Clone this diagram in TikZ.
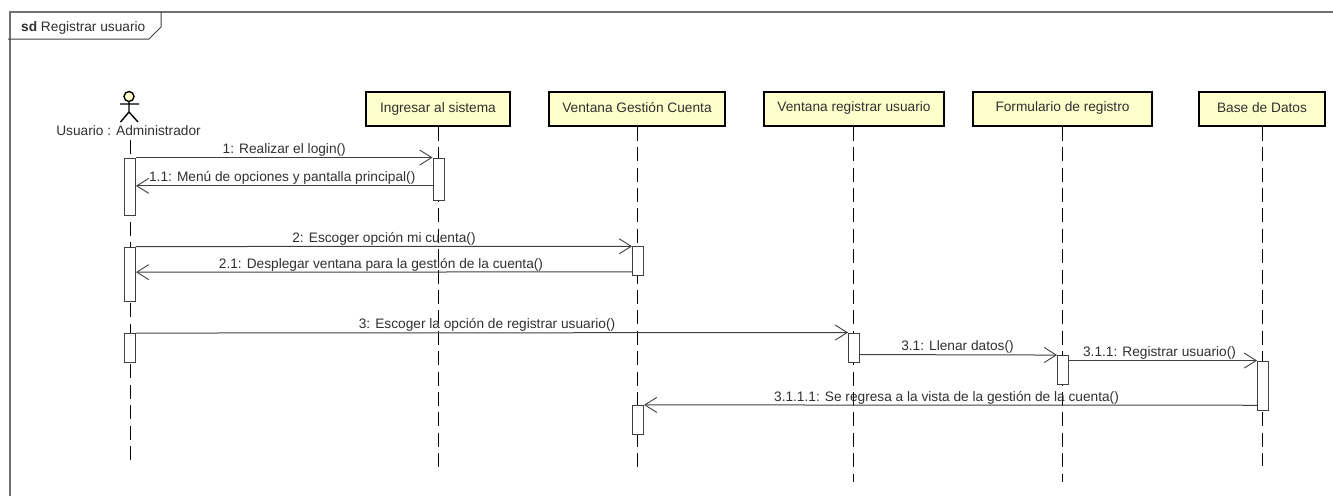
\documentclass[tikz,border=0pt]{standalone}
\usepackage{fontspec}
\setmainfont{Liberation Sans}
\usetikzlibrary{arrows.meta}
\definecolor{lifebox}{HTML}{FFFFCC}
\definecolor{framecol}{HTML}{707070}
\definecolor{msgcol}{HTML}{404040}
\definecolor{txtcol}{HTML}{303030}
\tikzset{
  objbox/.style={draw=black,line width=1.4pt,fill=lifebox,text=txtcol,minimum height=34pt,inner sep=0pt,text height=10pt,text depth=4pt,font=\fontsize{13.7}{15}\selectfont},
  objboxhigh/.style={objbox,text depth=6pt},
  lifeline/.style={draw=black,line width=0.9pt,dash pattern=on 14pt off 6.4pt},
  activation/.style={draw=msgcol,line width=0.9pt,fill=white,minimum width=11pt,inner sep=0pt},
  msg/.style={draw=msgcol,line width=1pt,-{Straight Barb[length=12pt,width=15pt,line width=0.9pt]}},
  msgtext/.style={text=txtcol,inner sep=0pt,font=\fontsize{13.7}{15}\selectfont},
  msglabel/.style={msgtext,anchor=base,pos=0.5,yshift=4pt},
}
\begin{document}
\begin{tikzpicture}[x=1pt,y=-1pt]
\useasboundingbox (0,0) rectangle (1333,496);
% frame
\coordinate (fl) at (10,496);
\coordinate (ftl) at (10,12);
\coordinate (ftr) at (1333,12);
\draw[framecol,line width=1.4pt] (fl) -- (ftl) -- (ftr);
\coordinate (t1) at (161,12);
\coordinate (t2) at (161,27);
\coordinate (t3) at (149,39);
\coordinate (t4) at (8,39);
\draw[msgcol,line width=1pt] (t1) -- (t2) -- (t3) -- (t4);
\node[msgtext,anchor=base west] (title) at (21,31.5) {\textbf{sd} Registrar usuario};
% lifeline ends
\coordinate (e0) at (130,460);
\coordinate (e1) at (438,467);
\coordinate (e2) at (637.5,467);
\coordinate (e3) at (853.5,482);
\coordinate (e4) at (1062.5,482);
\coordinate (e5) at (1262.7,466);
% actor
\coordinate (s0) at (130,140);
\coordinate (hip) at (129,112);
\coordinate (al) at (120,104);
\coordinate (ar) at (139,104);
\coordinate (ll) at (120.5,122);
\coordinate (lr) at (138,122);
\node[draw=black,line width=1.4pt,fill=lifebox,circle,minimum size=10pt,inner sep=0pt] (head) at (129,96.5) {};
\draw[black,line width=1.4pt] (head) -- (hip) (al) -- (ar) (ll) -- (hip) -- (lr);
\node[msgtext,anchor=base] (actor) at (128.5,135) {Usuario : Administrador};
% objects
\node[objbox,minimum width=144pt] (o1) at (438,109) {Ingresar al sistema};
\node[objbox,minimum width=176pt] (o2) at (637,109) {Ventana Gestión Cuenta};
\node[objboxhigh,minimum width=180pt] (o3) at (854,109) {Ventana registrar usuario};
\node[objboxhigh,minimum width=179pt] (o4) at (1062.5,109) {Formulario de registro};
\node[objbox,minimum width=126pt] (o5) at (1262,109) {Base de Datos};
\draw[lifeline] (o1.south -| e1) -- (e1);
\draw[lifeline] (o2.south -| e2) -- (e2);
\draw[lifeline] (o3.south -| e3) -- (e3);
\draw[lifeline] (o4.south -| e4) -- (e4);
\draw[lifeline] (o5.south -| e5) -- (e5);
\draw[lifeline] (s0) -- (e0);
% activations
\node[activation,minimum height=57pt] (a01) at (130,186.5) {};
\node[activation,minimum height=54pt] (a02) at (130,274) {};
\node[activation,minimum height=28.5pt] (a03) at (130,347.75) {};
\node[activation,minimum height=42pt] (a11) at (438.5,179) {};
\node[activation,minimum height=28.5pt] (a21) at (638,261) {};
\node[activation,minimum height=28.7pt] (a22) at (638,419.7) {};
\node[activation,minimum height=29pt] (a31) at (854,347.5) {};
\node[activation,minimum height=29pt] (a41) at (1063,370) {};
\node[activation,minimum height=49pt] (a51) at (1263,385.5) {};
% messages
\draw[msg] (a01.north east) -- (a11.north west) node[msglabel] (m1) {1: Realizar el login()};
\draw[msg] ([yshift=-28.3pt]a11.north west) -- ([yshift=-28.3pt]a01.north east) node[msglabel,xshift=-2pt] (m11) {1.1: Menú de opciones y pantalla principal()};
\draw[msg] (a02.north east) -- (a21.north west) node[msglabel] (m2) {2: Escoger opción mi cuenta()};
\draw[msg] ([yshift=-25.6pt]a21.north west) -- ([yshift=-25.6pt]a02.north east) node[msglabel,xshift=-3pt] (m21) {2.1: Desplegar ventana para la gestión de la cuenta()};
\draw[msg] (a03.north east) -- (a31.north west) node[msglabel,xshift=-5pt] (m3) {3: Escoger la opción de registrar usuario()};
\draw[msg] ([yshift=-22pt]a31.north east) -- (a41.north west) node[msglabel,xshift=-1pt] (m31) {3.1: Llenar datos()};
\draw[msg] ([yshift=-5.5pt]a41.north east) -- (a51.north west) node[msglabel,xshift=-3.5pt] (m311) {3.1.1: Registrar usuario()};
\draw[msg] ([yshift=-44.7pt]a51.north west) -- (a22.north east) node[msglabel,xshift=-4pt] (m3111) {3.1.1.1: Se regresa a la vista de la gestión de la cuenta()};
\end{tikzpicture}
\end{document}
